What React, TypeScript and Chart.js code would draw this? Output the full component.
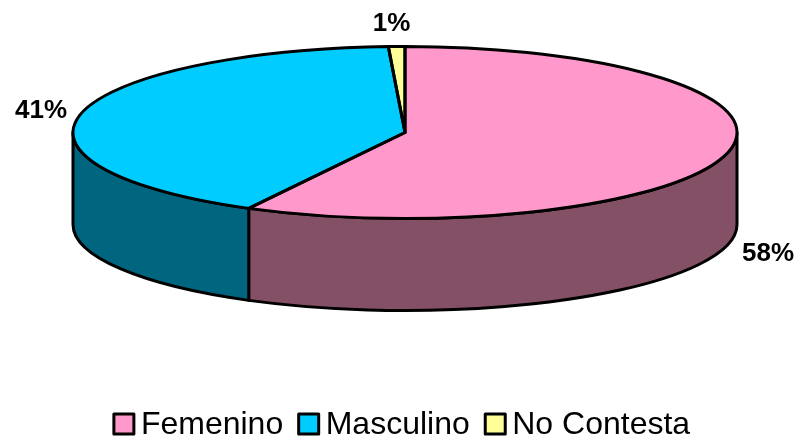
import React, { useEffect, useRef } from "react";
import { Chart, registerables } from "chart.js";

Chart.register(...registerables);

const categories = ["Femenino", "Masculino", "No Contesta"];
const shares = [57.8, 41.4, 0.8];
const shareLabels = ["58%", "41%", "1%"];
const topColors = ["#FF99CC", "#00CCFF", "#FFFF99"];
const wallColors = ["#845066", "#006680", "#808050"];

const FONT = '"Liberation Sans", Arial, sans-serif';
const PIE = { cx: 405, cy: 132.5, rx: 332, ry: 86, depth: 92 };
const STROKE = 3;
const LABEL_SHIFT = [
  { dx: 41, dy: 100 },
  { dx: -40, dy: -3 },
  { dx: -5, dy: -23 },
];
const LEGEND = { y: 424, box: 20, gap: 7, spacing: 15.5, size: 32 };

function arcsOf(chart: any) {
  return chart.getDatasetMeta(0).data as any[];
}

const pie3d = {
  id: "pie3d",
  beforeDatasetsDraw(chart: any) {
    const { ctx } = chart;
    const arcs = arcsOf(chart);
    const { x, y, outerRadius } = arcs[0].getProps(["x", "y", "outerRadius"], true);
    const { cx, cy, rx, ry, depth } = PIE;

    // side wall: the part of each slice facing the viewer
    arcs.forEach((arc, i) => {
      const a0 = Math.max(arc.startAngle, 0);
      const a1 = Math.min(arc.endAngle, Math.PI);
      if (a1 <= a0) return;
      ctx.beginPath();
      ctx.ellipse(cx, cy, rx, ry, 0, a0, a1);
      ctx.ellipse(cx, cy + depth, rx, ry, 0, a1, a0, true);
      ctx.closePath();
      ctx.fillStyle = wallColors[i];
      ctx.fill();
      ctx.strokeStyle = "#000";
      ctx.lineWidth = STROKE;
      ctx.lineJoin = "round";
      ctx.stroke();
    });

    // squash the library's round slices onto the ellipse
    ctx.save();
    ctx.translate(cx, cy);
    ctx.scale(rx / outerRadius, ry / outerRadius);
    ctx.translate(-x, -y);
  },
  afterDatasetsDraw(chart: any) {
    const { ctx } = chart;
    ctx.restore();
    const arcs = arcsOf(chart);
    const { cx, cy, rx, ry } = PIE;

    arcs.forEach((arc) => {
      ctx.beginPath();
      ctx.moveTo(cx, cy);
      ctx.ellipse(cx, cy, rx, ry, 0, arc.startAngle, arc.endAngle);
      ctx.closePath();
      ctx.strokeStyle = "#000";
      ctx.lineWidth = STROKE;
      ctx.lineJoin = "round";
      ctx.stroke();
    });

    // percentage labels
    ctx.fillStyle = "#000";
    ctx.font = `bold 26px ${FONT}`;
    ctx.textAlign = "center";
    ctx.textBaseline = "middle";
    arcs.forEach((arc, i) => {
      const mid = (arc.startAngle + arc.endAngle) / 2;
      const px = cx + rx * Math.cos(mid) + LABEL_SHIFT[i].dx;
      const py = cy + ry * Math.sin(mid) + LABEL_SHIFT[i].dy;
      ctx.fillText(shareLabels[i], px, py);
    });

    // legend
    const { y, box, gap, spacing, size } = LEGEND;
    ctx.font = `${size}px ${FONT}`;
    ctx.textAlign = "left";
    const widths = categories.map((c) => ctx.measureText(c).width);
    const total =
      widths.reduce((s, w) => s + w + box + gap, 0) + spacing * (categories.length - 1);
    let lx = (chart.width - total) / 2 + 2.5;
    categories.forEach((c, i) => {
      ctx.fillStyle = topColors[i];
      ctx.fillRect(lx, y - box / 2, box, box);
      ctx.strokeStyle = "#000";
      ctx.lineWidth = STROKE;
      ctx.strokeRect(lx, y - box / 2, box, box);
      ctx.fillStyle = "#000";
      ctx.fillText(c, lx + box + gap, y + 1);
      lx += box + gap + widths[i] + spacing;
    });
  },
};

export default function App() {
  const ref = useRef<HTMLCanvasElement>(null);
  useEffect(() => {
    const chart = new Chart(ref.current as HTMLCanvasElement, {
      type: "pie",
      data: {
        labels: categories,
        datasets: [
          {
            data: shares,
            backgroundColor: topColors,
            borderWidth: 0,
            clip: false,
          } as any,
        ],
      },
      options: {
        responsive: false,
        animation: false,
        plugins: {
          legend: { display: false },
          tooltip: { enabled: false },
        },
      },
      plugins: [pie3d],
    });
    return () => chart.destroy();
  }, []);
  return (
    <div style={{ position: "absolute", left: 0, top: 0, width: 799, height: 440, background: "#fff" }}>
      <canvas ref={ref} width={799} height={440} style={{ display: "block" }} />
    </div>
  );
}
